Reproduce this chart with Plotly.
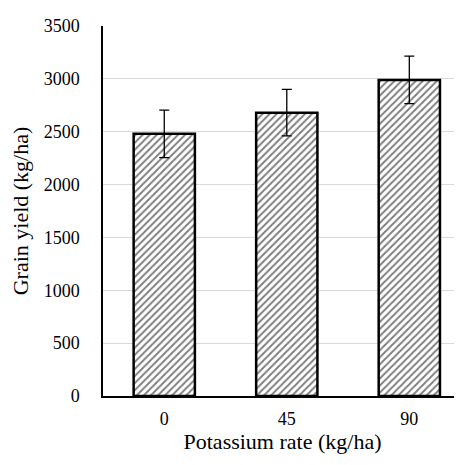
import plotly.graph_objects as go

categories = ["0", "45", "90"]
grain_yield = [2480, 2680, 2990]
yield_error = [225, 220, 225]
y_ticks = [0, 500, 1000, 1500, 2000, 2500, 3000, 3500]

fig = go.Figure()
fig.add_trace(go.Bar(
    x=categories,
    y=grain_yield,
    width=0.5,
    marker=dict(
        color="white",
        line=dict(color="black", width=2.5),
        pattern=dict(shape="/", fgcolor="black", bgcolor="white", size=5, solidity=0.4),
    ),
    error_y=dict(type="data", array=yield_error, visible=True, color="black", thickness=1.3, width=5),
))

font = '"Liberation Serif", "Times New Roman", "DejaVu Serif", serif'
fig.update_layout(
    width=462, height=465,
    margin=dict(l=95, r=8, t=12, b=77),
    paper_bgcolor="white", plot_bgcolor="white",
    showlegend=False,
    font=dict(family=font, color="black", size=18),
    xaxis=dict(
        type="category",
        range=[-0.5, 2.43],
        showline=True, linecolor="black", linewidth=1.5,
        ticks="", showgrid=False,
        tickfont=dict(family=font, size=18),
        ticklabelstandoff=6,
        title=dict(text="Potassium rate (kg/ha)", font=dict(family=font, size=22), standoff=4),
    ),
    yaxis=dict(
        range=[0, 3500],
        tickvals=y_ticks,
        ticktext=[str(v) for v in y_ticks],
        showline=True, linecolor="black", linewidth=1.5,
        showgrid=True, gridcolor="#d9d9d9", gridwidth=1.3,
        zeroline=False, ticks="",
        tickfont=dict(family=font, size=18),
        ticklabelstandoff=18,
        title=dict(text="Grain yield (kg/ha)", font=dict(family=font, size=22), standoff=12),
    ),
)

fig.write_html("out.html")
